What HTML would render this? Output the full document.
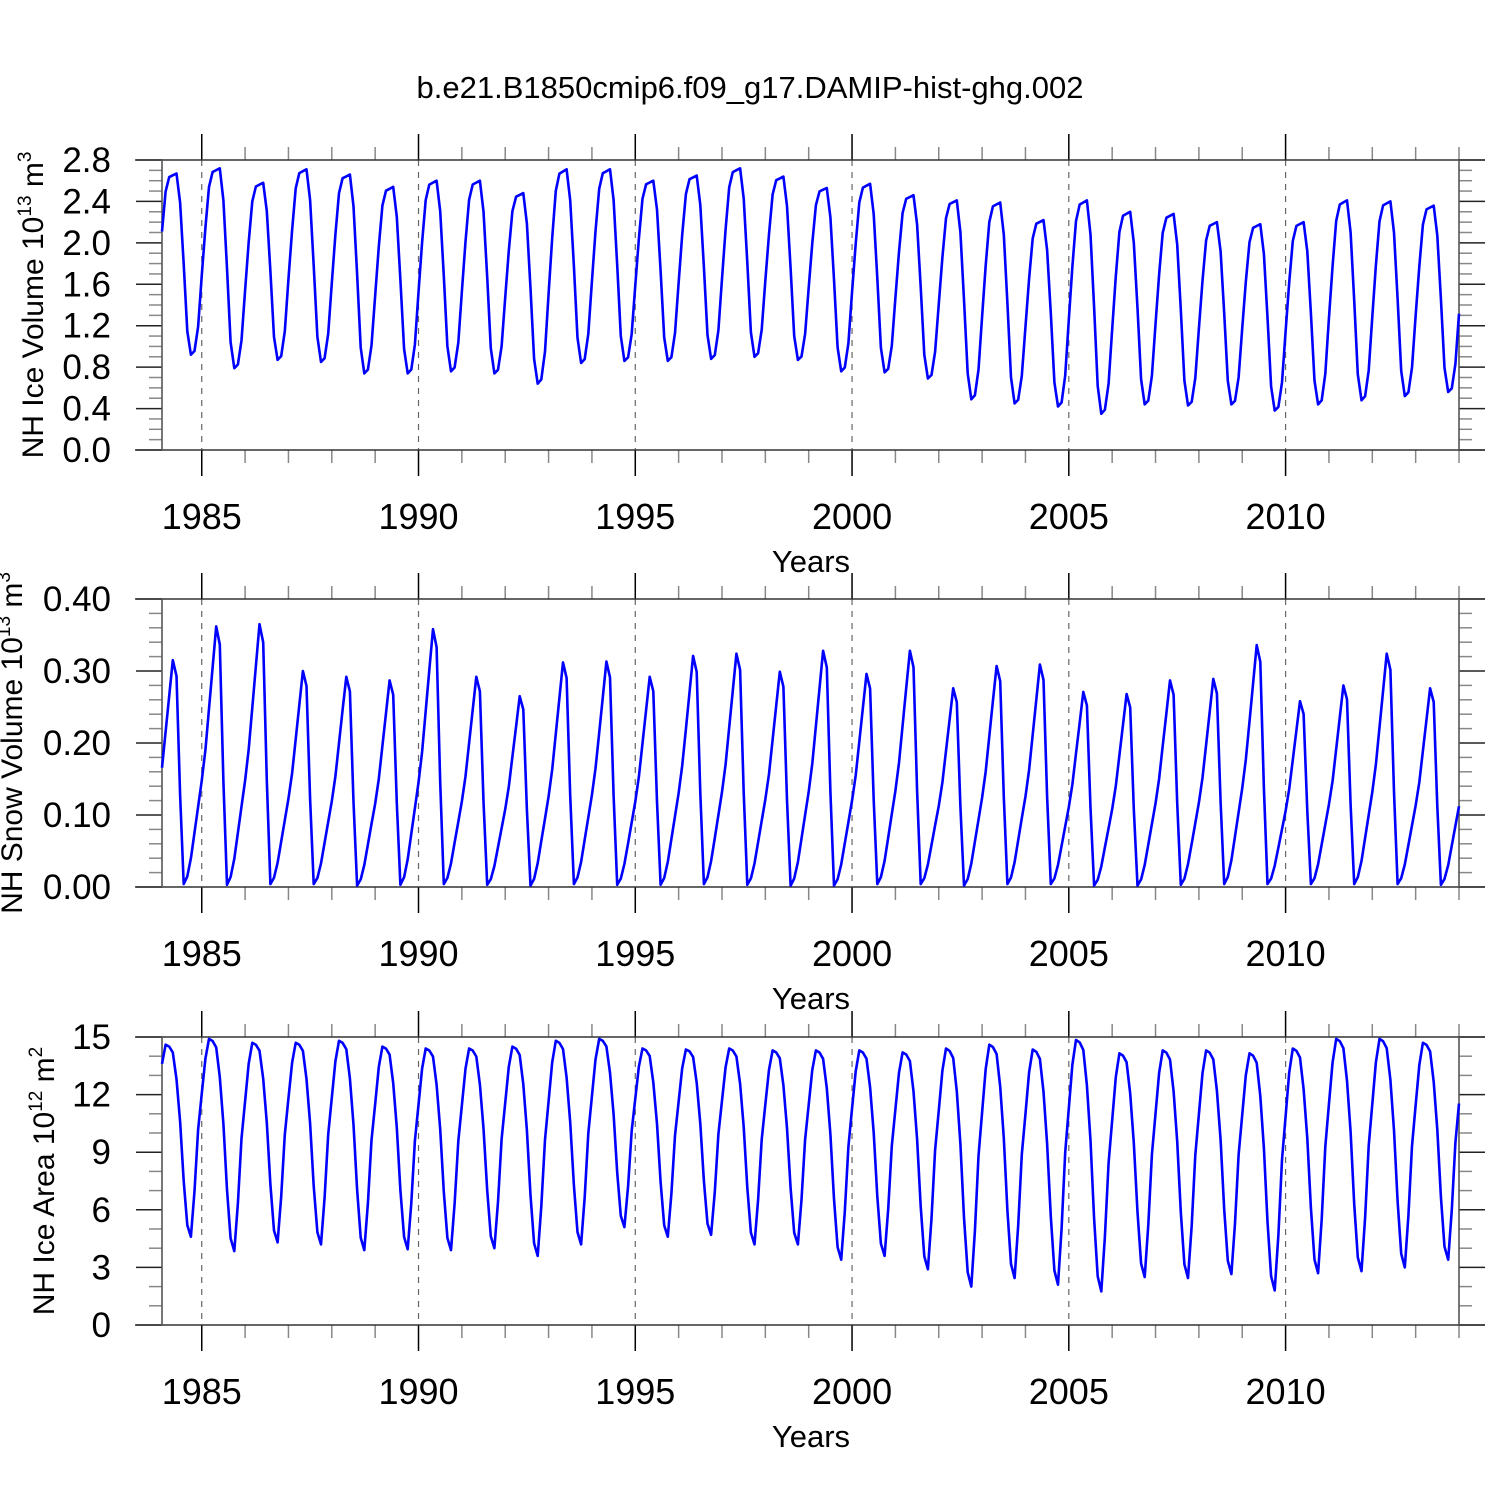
<!DOCTYPE html>
<html><head><meta charset="utf-8"><style>
html,body{margin:0;padding:0;background:#fff;}
svg{display:block;font-family:"Liberation Sans",Arial,sans-serif;}
</style></head><body>
<svg id="chart" width="1500" height="1500" viewBox="0 0 1500 1500">
<rect width="1500" height="1500" fill="#fff"/>
<text x="750" y="98" font-size="31" text-anchor="middle">b.e21.B1850cmip6.f09_g17.DAMIP-hist-ghg.002</text>
</svg>
<script>
// ---- data ----
const years = [1984,1985,1986,1987,1988,1989,1990,1991,1992,1993,1994,1995,1996,1997,1998,1999,2000,2001,2002,2003,2004,2005,2006,2007,2008,2009,2010,2011,2012,2013];
const volPeak = [2.67,2.72,2.58,2.71,2.66,2.54,2.60,2.60,2.48,2.71,2.71,2.60,2.65,2.72,2.64,2.53,2.57,2.46,2.41,2.39,2.22,2.41,2.30,2.28,2.20,2.18,2.20,2.41,2.40,2.36];
const volTrough = [0.92,0.79,0.87,0.85,0.74,0.74,0.76,0.74,0.64,0.84,0.86,0.86,0.88,0.90,0.87,0.76,0.75,0.69,0.49,0.45,0.42,0.35,0.44,0.43,0.44,0.38,0.44,0.48,0.52,0.56];
const volShape = [0.68,0.9,0.98,0.99,1.0,0.84,0.5,0.13,0,0.02,0.15,0.42];
const snowPeak = [0.315,0.362,0.365,0.300,0.292,0.287,0.358,0.292,0.265,0.312,0.313,0.292,0.321,0.324,0.299,0.328,0.296,0.328,0.276,0.307,0.309,0.271,0.268,0.287,0.289,0.336,0.258,0.280,0.324,0.276];
const snowTrough = [0.004,0.003,0.004,0.004,0.002,0.003,0.004,0.003,0.002,0.004,0.003,0.003,0.004,0.003,0.002,0.002,0.004,0.004,0.002,0.004,0.004,0.002,0.002,0.003,0.004,0.004,0.004,0.004,0.004,0.003];
const snowShape = [0.52,0.68,0.84,1.0,0.93,0.4,0.0,0.03,0.1,0.2,0.3,0.4];
const areaPeak = [14.6,14.9,14.7,14.7,14.8,14.5,14.4,14.4,14.5,14.8,14.9,14.4,14.35,14.4,14.3,14.3,14.3,14.2,14.4,14.6,14.35,14.85,14.15,14.3,14.3,14.15,14.4,14.9,14.9,14.7];
const areaTrough = [4.6,3.85,4.3,4.2,3.9,3.95,3.9,4.0,3.6,4.2,5.1,4.6,4.7,4.2,4.2,3.4,3.6,2.9,2.0,2.45,2.1,1.75,2.5,2.45,2.65,1.8,2.7,2.8,3.0,3.4];
const areaShape = [0.9,1.0,0.99,0.96,0.82,0.6,0.29,0.06,0,0.23,0.54,0.72];
const xTickLabels = ["1985","1990","1995","2000","2005","2010"];
const volTicks = ["0.0","0.4","0.8","1.2","1.6","2.0","2.4","2.8"];
const snowTicks = ["0.00","0.10","0.20","0.30","0.40"];
const areaTicks = ["0","3","6","9","12","15"];

const NS="http://www.w3.org/2000/svg";
const svg=document.getElementById('chart');
function mk(tag,attrs,parent){const e=document.createElementNS(NS,tag);for(const k in attrs)e.setAttribute(k,attrs[k]);(parent||svg).appendChild(e);return e;}
const X0=162,X1=1459,T0=1984+1/12,T1=2014;
const xs=t=>X0+(t-T0)/(T1-T0)*(X1-X0);

function panel(cfg){
  const g=mk('g',{});
  
  
  const ys=v=>cfg.yb-(v-cfg.ymin)/(cfg.ymax-cfg.ymin)*(cfg.yb-cfg.yt);
  xTickLabels.forEach(l=>{const x=xs(+l);const ln=mk('line',{x1:x,x2:x,y1:cfg.yt,y2:cfg.yb,stroke:'#666','stroke-width':1.2,'stroke-dasharray':'6,6'},g);
    });
  for(let y=1985;y<=2014;y++){const x=xs(y);const maj=(y%5===0);const L=maj?26:13;
    mk('line',{x1:x,x2:x,y1:cfg.yt-L,y2:cfg.yt,stroke:maj?'#000':'#888','stroke-width':1.5},g);
    mk('line',{x1:x,x2:x,y1:cfg.yb,y2:cfg.yb+L,stroke:maj?'#000':'#888','stroke-width':1.5},g);}
  for(let v=cfg.ymin;v<=cfg.ymax+1e-9;v+=cfg.minor){const y=ys(v);const maj=Math.abs(v/cfg.major-Math.round(v/cfg.major))<1e-6;const L=maj?26:13;
    mk('line',{x1:X0-L,x2:X0,y1:y,y2:y,stroke:maj?'#222':'#888','stroke-width':1.5},g);
    mk('line',{x1:X1,x2:X1+L,y1:y,y2:y,stroke:maj?'#222':'#888','stroke-width':1.5},g);}
  mk('line',{x1:135,x2:1485,y1:cfg.yt,y2:cfg.yt,stroke:'#333','stroke-width':1.6},g);
  mk('line',{x1:135,x2:1485,y1:cfg.yb,y2:cfg.yb,stroke:'#333','stroke-width':1.6},g);
  mk('line',{x1:X0,x2:X0,y1:cfg.yt,y2:cfg.yb,stroke:'#555','stroke-width':1.6},g);
  mk('line',{x1:X1,x2:X1,y1:cfg.yt,y2:cfg.yb,stroke:'#555','stroke-width':1.6},g);
  cfg.ticks.forEach(l=>{const t=mk('text',{x:cfg.lx,y:ys(+l)+12,'font-size':35,'text-anchor':'end'},g);t.textContent=l;
    });
  xTickLabels.forEach(l=>{const t=mk('text',{x:xs(+l),y:cfg.yb+79,'font-size':36,'text-anchor':'middle'},g);t.textContent=l;
    });
  const xt=mk('text',{x:811,y:cfg.yb+122,'font-size':31,'text-anchor':'middle'},g);xt.textContent='Years';
  
  const yt=mk('text',{transform:`translate(${cfg.tx},${cfg.ty}) rotate(-90)`,'font-size':30,'text-anchor':'middle'},g);
  
  yt.innerHTML=cfg.title;
  const n=years.length;
  let pts=[];
  years.forEach((yr,k)=>{for(let m=0;m<12;m++){
    const s=cfg.shape[m];let lo,hi;
    if(m<cfg.pIdx){lo=cfg.tr[Math.max(k-1,0)];hi=cfg.pk[k];}
    else if(m>cfg.tIdx){lo=cfg.tr[k];hi=cfg.pk[Math.min(k+1,n-1)];}
    else {lo=cfg.tr[k];hi=cfg.pk[k];}
    const v=lo+s*(hi-lo);const t=yr+(m+1)/12;pts.push(xs(t).toFixed(1)+','+ys(v).toFixed(1));}});
  const pl=mk('polyline',{points:pts.join(' '),fill:'none',stroke:'#0000ff','stroke-width':2.6,'stroke-linejoin':'round'},g);
  
  
}
panel({name:'ice-volume-panel',yt:160,yb:450,ymin:0,ymax:2.8,major:0.4,minor:0.1,ticks:volTicks,lx:111,tx:43,ty:305,pIdx:4,tIdx:8,
  title:'NH Ice Volume 10<tspan font-size="19" dy="-12">13</tspan><tspan dy="12"> m</tspan><tspan font-size="19" dy="-12">3</tspan>',
  pk:volPeak,tr:volTrough,shape:volShape});
panel({name:'snow-volume-panel',yt:599,yb:887,ymin:0,ymax:0.4,major:0.1,minor:0.02,ticks:snowTicks,lx:111,tx:22,ty:743,pIdx:3,tIdx:6,
  title:'NH Snow Volume 10<tspan font-size="19" dy="-12">13</tspan><tspan dy="12"> m</tspan><tspan font-size="19" dy="-12">3</tspan>',
  pk:snowPeak,tr:snowTrough,shape:snowShape});
panel({name:'ice-area-panel',yt:1037,yb:1325,ymin:0,ymax:15,major:3,minor:1,ticks:areaTicks,lx:111,tx:54,ty:1181,pIdx:1,tIdx:8,
  title:'NH Ice Area 10<tspan font-size="19" dy="-12">12</tspan><tspan dy="12"> m</tspan><tspan font-size="19" dy="-12">2</tspan>',
  pk:areaPeak,tr:areaTrough,shape:areaShape});
</script>
</body></html>
